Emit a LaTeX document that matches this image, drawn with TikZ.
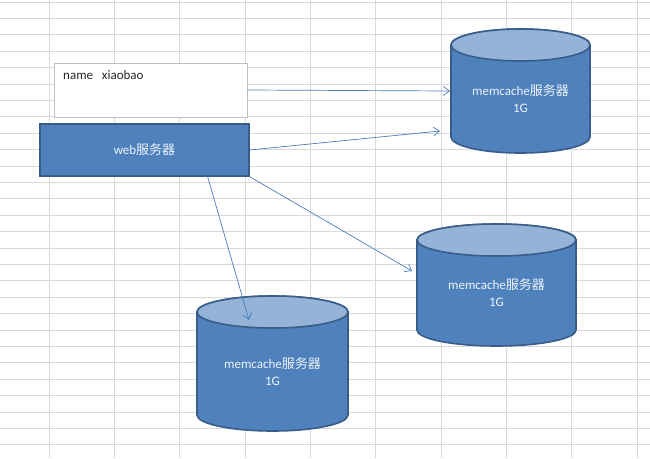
\documentclass[tikz,border=0pt]{standalone}
\usepackage{fontspec}
\setmainfont{Carlito}
\newfontfamily\cjk{Noto Sans CJK SC}
\usetikzlibrary{positioning,calc,arrows.meta}
\definecolor{gridgray}{HTML}{D9D9D9}
\definecolor{boxgray}{HTML}{BFBFBF}
\definecolor{fillblue}{HTML}{4F81BD}
\definecolor{topblue}{HTML}{95B3D7}
\definecolor{edgeblue}{HTML}{385D8A}
\definecolor{linkblue}{HTML}{4A7EBB}
\definecolor{labelwhite}{HTML}{EEF3FA}

\begin{document}
\begin{tikzpicture}[
  x=1pt, y=1pt,
  gridline/.style={draw=gridgray, line width=0.9pt},
  notebox/.style={rectangle, draw=boxgray, fill=white, line width=0.8pt, minimum width=193pt, minimum height=54pt, inner sep=0pt},
  notetext/.style={font=\fontsize{13}{16}\selectfont, text=black!85, inner sep=0pt},
  webbox/.style={rectangle, draw=edgeblue, fill=fillblue, line width=1.6pt, minimum width=209pt, minimum height=52pt, inner sep=0pt, font=\fontsize{13}{16}\selectfont, text=labelwhite},
  cylbody/.style={fill=fillblue, draw=edgeblue, line width=1.6pt},
  cyltop/.style={fill=topblue, draw=edgeblue, line width=1.6pt},
  cyltext/.style={align=center, inner sep=0pt, font=\fontsize{13}{17}\selectfont, text=labelwhite},
  link/.style={draw=linkblue, line width=0.7pt, -{Straight Barb[length=6pt, width=9pt, line width=0.7pt]}},
]
% page = 650 x 458 px, origin top left, y runs negative
\useasboundingbox (0,0) rectangle (650,-458);
\fill[white] (0,0) rectangle (650,-458);

% spreadsheet grid
\foreach \k in {0,...,9} {
  \pgfmathsetmacro{\gx}{49 + \k*65.33}
  \draw[gridline] (\gx,0) -- (\gx,-458);
}
\foreach \k in {0,...,27} {
  \pgfmathsetmacro{\gy}{-2 - \k*16.4}
  \draw[gridline] (0,\gy) -- (650,\gy);
}

% note and web server
\node[notebox] (note) at (150.5,-90) {};
\node[notetext, anchor=west] (notelabel) at (63,-75) {name\ \ \ xiaobao};
\node[webbox] (web) at (144.5,-150) {web{\cjk 服务器}};

% memcache cylinders: name / centre x / top / bottom / half width
\foreach \nm/\cx/\ct/\cb/\rx in {mcA/520.5/29/153/69.5, mcB/496.5/224/346/79.5, mcC/272.5/296/431/75.5} {
  \pgfmathsetmacro{\ytop}{-\ct - 16}
  \pgfmathsetmacro{\ybot}{-\cb + 16}
  \pgfmathsetmacro{\ymid}{(\ytop + \ybot)/2 - 8}
  \path[cylbody] (\cx-\rx,\ytop) -- (\cx-\rx,\ybot)
    arc[start angle=180, end angle=360, x radius=\rx, y radius=16]
    -- (\cx+\rx,\ytop)
    arc[start angle=0, end angle=180, x radius=\rx, y radius=16] -- cycle;
  \path[cyltop] (\cx,\ytop) ellipse[x radius=\rx, y radius=16];
  \node[cyltext] (\nm) at (\cx,\ymid) {memcache{\cjk 服务器}\\1G};
}

% arrow ends
\coordinate (inA) at (450,-91);
\coordinate (nearA) at (440,-131);
\coordinate (nearB) at (412,-271);
\coordinate (inC) at (249,-320);

\draw[link] (note.east) -- (inA);
\draw[link] (web.east) -- (nearA);
\draw[link] (web.south east) -- (nearB);
\draw[link] (web.-23.3) -- (inC);
\end{tikzpicture}
\end{document}
